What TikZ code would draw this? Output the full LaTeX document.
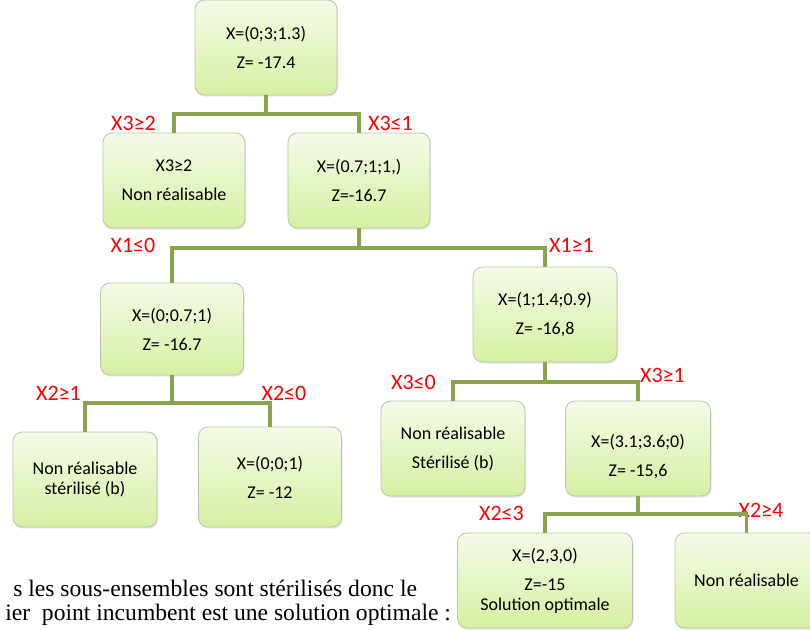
\documentclass[tikz,border=0pt]{standalone}
\usepackage{fontspec}
\setmainfont{Carlito}
\newfontfamily\notefont{Liberation Serif}
\usetikzlibrary{shadows}
\definecolor{branchgreen}{RGB}{136,164,76}
\definecolor{boxtop}{RGB}{244,251,232}
\definecolor{boxbottom}{RGB}{214,240,162}
\definecolor{boxedge}{RGB}{185,195,175}

\begin{document}
\begin{tikzpicture}[x=0.75pt, y=-0.75pt,
    box/.style={draw=boxedge, line width=0.6pt, rounded corners=7pt,
        top color=boxtop, bottom color=boxbottom,
        drop shadow={opacity=0.2, shadow xshift=0.8pt, shadow yshift=-1.2pt},
        minimum width=106.5pt, minimum height=71.25pt, inner sep=0pt, outer sep=0pt,
        align=center, font=\fontsize{13.5}{21.75}\selectfont},
    cond/.style={text=red, font=\fontsize{16.5}{18}\selectfont, inner sep=0pt},
    branch/.style={draw=branchgreen, line width=2.3pt},
    note/.style={anchor=base west, inner sep=0pt, font=\notefont\fontsize{17.7}{20}\selectfont}]
    \useasboundingbox (0,0) rectangle (810,629);

    % Root
    \node[box] (root) at (266,47.5) {X=(0;3;1.3)\\Z= -17.4};

    % Branching on X3
    \node[box] (n1) at (174,180.5) {X3≥2\\Non réalisable};
    \node[box] (n2) at (359,180.5) {X=(0.7;1;1,)\\Z=-16.7};
    \node[cond] (c1) at (133.5,123) {X3≥2};
    \node[cond] (c2) at (390.5,123) {X3≤1};

    % Branching on X1
    \node[box, minimum width=107.25pt, minimum height=69pt] (n3) at (172,329) {X=(0;0.7;1)\\Z= -16.7};
    \node[box, minimum width=108pt] (n4) at (545,314.5) {X=(1;1.4;0.9)\\Z= -16,8};
    \node[cond] (c3) at (133,245) {X1≤0};
    \node[cond] (c4) at (571.5,245) {X1≥1};

    % Branching on X2 (left)
    \node[box, minimum width=108pt] (n5) at (85,479.5) {Non réalisable\\[-6.75pt]stérilisé (b)};
    \node[box, minimum width=107.25pt, minimum height=75pt] (n6) at (270,477) {X=(0;0;1)\\Z= -12};
    \node[cond] (c5) at (58.5,393) {X2≥1};
    \node[cond] (c6) at (284,393) {X2≤0};

    % Branching on X3 (right)
    \node[box, minimum width=108pt] (n7) at (453,448.5) {Non réalisable\\Stérilisé (b)};
    \node[box, minimum width=108.75pt] (n8) at (638,448.5) {\mbox{}\\X=(3.1;3.6;0)\\Z= -15,6};
    \node[cond] (c7) at (413.5,382) {X3≤0};
    \node[cond] (c8) at (662.5,375) {X3≥1};

    % Branching on X2 (right)
    \node[box, minimum width=131.25pt] (n9) at (545,580.5) {X=(2,3,0)\\Z=-15\\[-6.75pt]Solution optimale};
    \node[box, minimum width=107.25pt] (n10) at (746.5,580.5) {Non réalisable};
    \node[cond] (c9) at (501.5,513) {X2≤3};
    \node[cond] (c10) at (761,510) {X2≥4};

    % Connectors
    \coordinate (j1) at (266,114);
    \coordinate (j2) at (359,248);
    \coordinate (j3) at (172,403);
    \coordinate (j4) at (545,382);
    \coordinate (j5) at (638,514);
    \draw[branch] (root.south) -- (j1);
    \draw[branch] (n1.north) |- (j1) -| (n2.north);
    \draw[branch] (n2.south) -- (j2);
    \draw[branch] (n3.north) |- (j2) -| (n4.north);
    \draw[branch] (n3.south) -- (j3);
    \draw[branch] (n5.north) |- (j3) -| (n6.north);
    \draw[branch] (n4.south) -- (j4);
    \draw[branch] (n7.north) |- (j4) -| (n8.north);
    \draw[branch] (n8.south) -- (j5);
    \draw[branch] (n9.north) |- (j5) -| (n10.north);

    % Text below the tree
    \node[note] (t1) at (13,596) {s les sous-ensembles sont stérilisés donc le};
    \node[note] (t2) at (5,620) {ier\ \ point incumbent est une solution optimale :};
\end{tikzpicture}
\end{document}
